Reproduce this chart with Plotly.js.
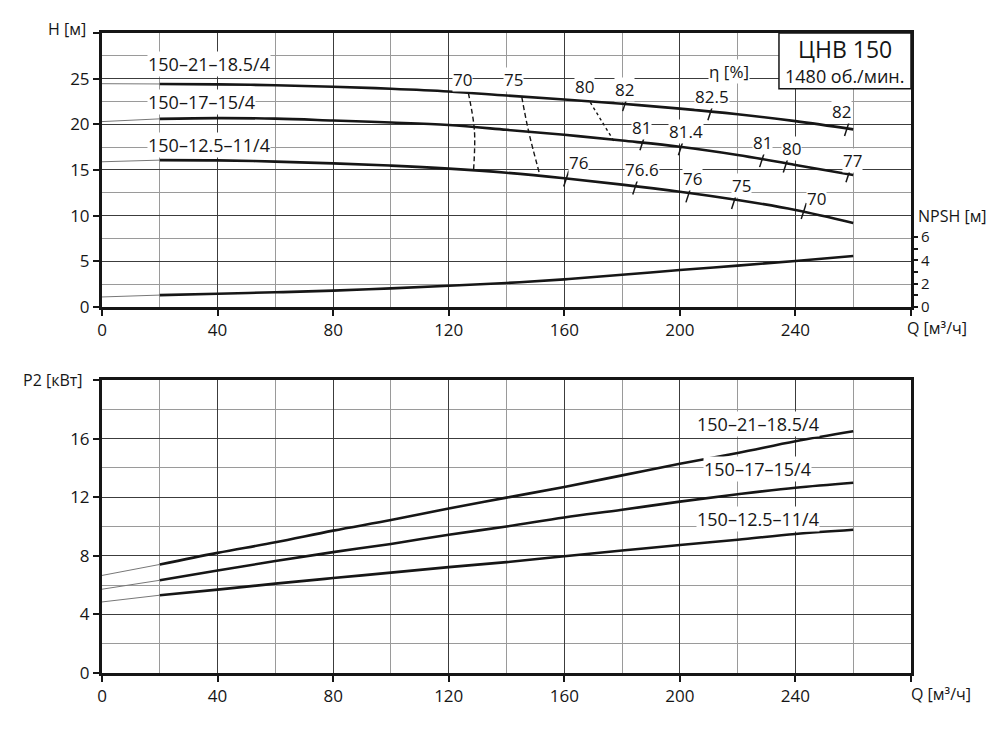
<!DOCTYPE html>
<html>
<head>
<meta charset="utf-8">
<script src="https://cdn.plot.ly/plotly-3.0.1.min.js"></script>
<style>html,body{margin:0;padding:0;background:#fff}</style>
</head>
<body>
<div id="chart" style="width:998px;height:731px"></div>
<script>
// Q, m3/h
const flow = [0, 20, 40, 60, 80, 100, 120, 140, 160, 180, 200, 220, 240, 260];

// H, m
const headA = [24.45, 24.42, 24.38, 24.28, 24.12, 23.9, 23.6, 23.15, 22.72, 22.25, 21.72, 21.1, 20.35, 19.45];
const headB = [20.3, 20.6, 20.68, 20.62, 20.42, 20.2, 19.92, 19.4, 18.85, 18.22, 17.55, 16.65, 15.55, 14.45];
const headC = [15.9, 16.08, 16.05, 15.92, 15.72, 15.48, 15.15, 14.7, 14.1, 13.4, 12.62, 11.72, 10.62, 9.2];
// NPSH, m
const npsh = [0.86, 1.02, 1.14, 1.26, 1.4, 1.6, 1.82, 2.06, 2.37, 2.76, 3.17, 3.55, 3.94, 4.37];

// P2, kW
const powerA = [6.66, 7.41, 8.2, 8.92, 9.72, 10.44, 11.23, 11.97, 12.7, 13.49, 14.28, 15.02, 15.82, 16.5];
const powerB = [5.72, 6.33, 7.0, 7.64, 8.25, 8.81, 9.44, 10.0, 10.62, 11.14, 11.7, 12.2, 12.65, 12.99];
const powerC = [4.85, 5.31, 5.69, 6.1, 6.48, 6.85, 7.23, 7.57, 7.97, 8.36, 8.74, 9.1, 9.49, 9.78];

const models = ['150–21–18.5/4', '150–17–15/4', '150–12.5–11/4'];

// iso-efficiency lines
const isoLabels = ['70', '75', '80'];
const isoQ = [[126.8, 128.9, 128.6], [145.3, 147.6, 151.5], [169, 177.1]];
const isoH = [[23.43, 19.3, 15.0], [22.98, 19.3, 14.5], [22.4, 18.2]];

// efficiency marks on the H curves
const markQ = [181.1, 210.6, 257.9, 187.1, 200.4, 228.5, 236.7, 258.4, 160.7, 184.6, 203.0, 218.8, 242.9];
const markH = [22.32, 21.33, 19.6, 18.03, 17.48, 16.19, 15.6, 14.54, 14.06, 13.18, 12.33, 11.6, 10.5];
const markText = ['82', '82.5', '82', '81', '81.4', '81', '80', '77', '76', '76.6', '76', '75', '70'];

const ink = '#161616';
const fontFam = '"Open Sans", "Noto Sans", sans-serif';

const curve = (y, xa, ya) => [
    {x: flow.slice(0, 2), y: y.slice(0, 2), xaxis: xa, yaxis: ya, mode: 'lines',
     line: {color: '#777', width: 1}, hoverinfo: 'skip'},
    {x: flow.slice(1), y: y.slice(1), xaxis: xa, yaxis: ya, mode: 'lines',
     line: {color: ink, width: 2.6, shape: 'spline'}}
];

let data = [];
[headA, headB, headC].forEach(h => { data = data.concat(curve(h, 'x', 'y')); });
data = data.concat(curve(npsh, 'x', 'y3'));
[powerA, powerB, powerC].forEach(p => { data = data.concat(curve(p, 'x2', 'y2')); });

isoQ.forEach((q, i) => {
    data.push({x: q, y: isoH[i], xaxis: 'x', yaxis: 'y', mode: 'lines',
        line: {color: ink, width: 1.4, dash: i === 2 ? '3px,3px' : '5px,3px', shape: 'spline'}});
});

data.push({x: markQ, y: markH, xaxis: 'x', yaxis: 'y', mode: 'markers',
    marker: {symbol: 'line-ns', size: 12, angle: 18, line: {color: ink, width: 1.5}}});

const xBase = {
    range: [0, 280], tickvals: [0, 40, 80, 120, 160, 200, 240, 280],
    ticktext: ['0', '40', '80', '120', '160', '200', '240', ''],
    ticks: 'outside', ticklen: 6, tickwidth: 2, tickcolor: ink,
    showline: true, linewidth: 3, linecolor: ink, mirror: true,
    showgrid: true, gridcolor: '#3c3c3c', gridwidth: 1,
    minor: {dtick: 20, tick0: 0, showgrid: true, gridcolor: '#9a9a9a', gridwidth: 1},
    zeroline: false, tickfont: {size: 17, color: ink}, fixedrange: true
};
const yBase = {
    ticks: 'outside', ticklen: 6, tickwidth: 2, tickcolor: ink,
    showline: true, linewidth: 3, linecolor: ink, mirror: true,
    showgrid: true, gridcolor: '#3c3c3c', gridwidth: 1,
    zeroline: false, tickfont: {size: 17, color: ink}, fixedrange: true
};

const annotations = [];
const txt = (o) => annotations.push(Object.assign({showarrow: false, xanchor: 'center', font: {size: 16, color: ink}}, o));

// axis titles
txt({text: 'H [м]', xref: 'paper', x: 0, xanchor: 'right', xshift: -14, yref: 'y domain', y: 1, yanchor: 'middle', yshift: 4});
txt({text: 'Q [м³/ч]', xref: 'paper', x: 1, xanchor: 'left', xshift: -6, yref: 'y domain', y: 0, yanchor: 'top', yshift: -8});
txt({text: 'NPSH [м]', xref: 'paper', x: 1, xanchor: 'left', xshift: 5, yref: 'y3', y: 7.8, yanchor: 'middle'});
txt({text: 'P2 [кВт]', xref: 'paper', x: 0, xanchor: 'right', xshift: -17, yref: 'y2 domain', y: 1, yanchor: 'middle'});
txt({text: 'Q [м³/ч]', xref: 'paper', x: 1, xanchor: 'left', xshift: -2, yref: 'y2 domain', y: 0, yanchor: 'top', yshift: -8});

// model box text
txt({text: 'ЦНВ 150', xref: 'paper', x: 0.9184, yref: 'y domain', y: 0.9427, yanchor: 'middle', font: {size: 23, color: ink}});
txt({text: '1480 об./мин.', xref: 'paper', x: 0.9184, yref: 'y domain', y: 0.8423, yanchor: 'middle', font: {size: 18, color: ink}});

// model labels, head chart
const headLabelH = [26.63, 22.43, 17.72];
models.forEach((m, i) => {
    txt({text: m, xref: 'x', x: 15.6, xanchor: 'left', yref: 'y', y: headLabelH[i], yanchor: 'middle',
        bgcolor: '#fff', borderpad: 0, font: {size: 18, color: ink}});
});
// model labels, power chart
const powerLabelP = [16.89, 13.82, 10.35];
models.forEach((m, i) => {
    txt({text: m, xref: 'x2', x: 227, xanchor: 'center', yref: 'y2', y: powerLabelP[i], yanchor: 'middle', yshift: 2,
        bgcolor: '#fff', borderpad: 0, font: {size: 18, color: ink}});
});

// efficiency labels
txt({text: 'η [%]', xref: 'x', x: 217, yref: 'y', y: 25.77, bgcolor: '#fff', borderpad: 0, font: {size: 17, color: ink}});
const isoShift = [[-6, 14], [-8, 18], [-6, 16]];
isoLabels.forEach((t, i) => {
    txt({text: t, xref: 'x', x: isoQ[i][0], yref: 'y', y: isoH[i][0], xshift: isoShift[i][0], yshift: isoShift[i][1],
        bgcolor: '#fff', borderpad: 0, font: {size: 17, color: ink}});
});
const markShift = [[-1, 14], [2, 16], [-6, 16], [-1, 15], [5, 16], [0, 17], [6, 16], [4, 14], [12, 16], [7, 17], [4, 16], [7, 16], [13, 13]];
markText.forEach((t, i) => {
    txt({text: t, xref: 'x', x: markQ[i], yref: 'y', y: markH[i], xshift: markShift[i][0], yshift: markShift[i][1],
        bgcolor: '#fff', borderpad: 0, font: {size: 17, color: ink}});
});

const layout = {
    width: 998, height: 731,
    margin: {l: 102, r: 87, t: 33, b: 58},
    paper_bgcolor: '#fff', plot_bgcolor: '#fff',
    font: {family: fontFam, color: ink},
    showlegend: false,
    xaxis: Object.assign({}, xBase, {anchor: 'y'}),
    xaxis2: Object.assign({}, xBase, {anchor: 'y2'}),
    yaxis: Object.assign({}, yBase, {
        domain: [0.5719, 1], anchor: 'x', range: [0, 30],
        tickvals: [0, 5, 10, 15, 20, 25, 30], ticktext: ['0', '5', '10', '15', '20', '25', ''],
        minor: {dtick: 2.5, tick0: 0, showgrid: true, gridcolor: '#9a9a9a', gridwidth: 1}
    }),
    yaxis2: Object.assign({}, yBase, {
        domain: [0, 0.4578], anchor: 'x2', range: [0, 20],
        tickvals: [0, 4, 8, 12, 16, 20], ticktext: ['0', '4', '8', '12', '16', ''],
        minor: {dtick: 2, tick0: 0, showgrid: true, gridcolor: '#9a9a9a', gridwidth: 1}
    }),
    yaxis3: {
        overlaying: 'y', side: 'right', anchor: 'x', range: [0, 23.5],
        tickvals: [0, 1, 2, 3, 4, 5, 6], ticktext: ['0', '', '2', '', '4', '', '6'],
        ticks: 'outside', ticklen: 6, tickwidth: 1.5, tickcolor: ink,
        showline: false, showgrid: false, zeroline: false,
        tickfont: {size: 15, color: ink}, fixedrange: true
    },
    shapes: [{
        type: 'rect', xref: 'paper', yref: 'y domain', x0: 0.8368, x1: 1, y0: 0.7967, y1: 1,
        fillcolor: '#fff', line: {color: ink, width: 1.5}, layer: 'above'
    }],
    annotations: annotations
};

Plotly.newPlot('chart', data, layout, {displayModeBar: false, responsive: false});
</script>
</body>
</html>
